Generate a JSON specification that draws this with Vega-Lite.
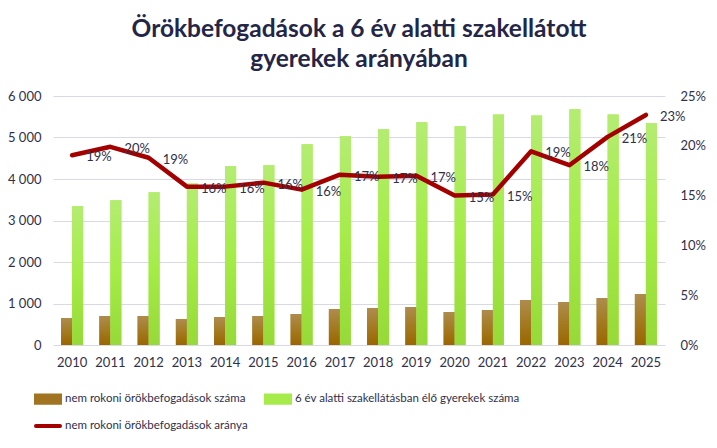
{
  "$schema": "https://vega.github.io/schema/vega-lite/v6.json",
  "width": 612,
  "height": 249,
  "autosize": "none",
  "padding": {"left": 53, "top": 96, "right": 52, "bottom": 103},
  "background": "white",
  "title": {
    "text": ["Örökbefogadások a 6 év alatti szakellátott", "gyerekek arányában"],
    "font": "Lato",
    "fontSize": 24.5,
    "fontWeight": "bold",
    "color": "#232647",
    "lineHeight": 30,
    "anchor": "middle",
    "offset": 18
  },
  "config": {
    "view": {"stroke": null},
    "font": "Lato",
    "axis": {"labelFont": "Lato", "labelFontSize": 13, "labelColor": "#30304a"},
    "legend": {"labelFont": "Lato", "labelFontSize": 11.5, "labelColor": "#30304a"}
  },
  "datasets": {
    "bars": [
      {"year": "2010", "series": "nem rokoni örökbefogadások száma", "value": 650},
      {"year": "2011", "series": "nem rokoni örökbefogadások száma", "value": 698},
      {"year": "2012", "series": "nem rokoni örökbefogadások száma", "value": 698},
      {"year": "2013", "series": "nem rokoni örökbefogadások száma", "value": 625},
      {"year": "2014", "series": "nem rokoni örökbefogadások száma", "value": 674},
      {"year": "2015", "series": "nem rokoni örökbefogadások száma", "value": 698},
      {"year": "2016", "series": "nem rokoni örökbefogadások száma", "value": 746},
      {"year": "2017", "series": "nem rokoni örökbefogadások száma", "value": 866},
      {"year": "2018", "series": "nem rokoni örökbefogadások száma", "value": 890},
      {"year": "2019", "series": "nem rokoni örökbefogadások száma", "value": 914},
      {"year": "2020", "series": "nem rokoni örökbefogadások száma", "value": 794},
      {"year": "2021", "series": "nem rokoni örökbefogadások száma", "value": 842},
      {"year": "2022", "series": "nem rokoni örökbefogadások száma", "value": 1083},
      {"year": "2023", "series": "nem rokoni örökbefogadások száma", "value": 1034},
      {"year": "2024", "series": "nem rokoni örökbefogadások száma", "value": 1131},
      {"year": "2025", "series": "nem rokoni örökbefogadások száma", "value": 1227},
      {"year": "2010", "series": "6 év alatti szakellátásban élő gyerekek száma", "value": 3344},
      {"year": "2011", "series": "6 év alatti szakellátásban élő gyerekek száma", "value": 3488},
      {"year": "2012", "series": "6 év alatti szakellátásban élő gyerekek száma", "value": 3681},
      {"year": "2013", "series": "6 év alatti szakellátásban élő gyerekek száma", "value": 3889},
      {"year": "2014", "series": "6 év alatti szakellátásban élő gyerekek száma", "value": 4306},
      {"year": "2015", "series": "6 év alatti szakellátásban élő gyerekek száma", "value": 4330},
      {"year": "2016", "series": "6 év alatti szakellátásban élő gyerekek száma", "value": 4836},
      {"year": "2017", "series": "6 év alatti szakellátásban élő gyerekek száma", "value": 5028},
      {"year": "2018", "series": "6 év alatti szakellátásban élő gyerekek száma", "value": 5196},
      {"year": "2019", "series": "6 év alatti szakellátásban élő gyerekek száma", "value": 5365},
      {"year": "2020", "series": "6 év alatti szakellátásban élő gyerekek száma", "value": 5269},
      {"year": "2021", "series": "6 év alatti szakellátásban élő gyerekek száma", "value": 5557},
      {"year": "2022", "series": "6 év alatti szakellátásban élő gyerekek száma", "value": 5533},
      {"year": "2023", "series": "6 év alatti szakellátásban élő gyerekek száma", "value": 5678},
      {"year": "2024", "series": "6 év alatti szakellátásban élő gyerekek száma", "value": 5557},
      {"year": "2025", "series": "6 év alatti szakellátásban élő gyerekek száma", "value": 5341}
    ],
    "ratio": [
      {"year": "2010", "ratio": 0.1905},
      {"year": "2011", "ratio": 0.199},
      {"year": "2012", "ratio": 0.188},
      {"year": "2013", "ratio": 0.159},
      {"year": "2014", "ratio": 0.159},
      {"year": "2015", "ratio": 0.163},
      {"year": "2016", "ratio": 0.156},
      {"year": "2017", "ratio": 0.171},
      {"year": "2018", "ratio": 0.169},
      {"year": "2019", "ratio": 0.17},
      {"year": "2020", "ratio": 0.15},
      {"year": "2021", "ratio": 0.151},
      {"year": "2022", "ratio": 0.1945},
      {"year": "2023", "ratio": 0.1805},
      {"year": "2024", "ratio": 0.209},
      {"year": "2025", "ratio": 0.231}
    ]
  },
  "encoding": {
    "x": {
      "field": "year",
      "type": "nominal",
      "scale": {"paddingInner": 0.425, "paddingOuter": 0.2125},
      "axis": {"title": null, "labelAngle": 0, "domain": false, "ticks": false, "labelPadding": 11}
    }
  },
  "layer": [
    {
      "data": {"name": "bars"},
      "encoding": {
        "xOffset": {
          "field": "series",
          "type": "nominal",
          "scale": {
            "domain": ["nem rokoni örökbefogadások száma", "6 év alatti szakellátásban élő gyerekek száma"],
            "paddingInner": 0,
            "paddingOuter": 0
          }
        },
        "y": {
          "field": "value",
          "type": "quantitative",
          "scale": {"domain": [0, 6000]},
          "axis": {
            "title": null,
            "values": [0, 1000, 2000, 3000, 4000, 5000, 6000],
            "domain": false,
            "ticks": false,
            "labelPadding": 12,
            "gridColor": "#D9D9E6",
            "labelExpr": "replace(format(datum.value, ','), ',', ' ')"
          }
        }
      },
      "layer": [
        {
          "mark": {"type": "bar"},
          "encoding": {
            "color": {
              "field": "series",
              "type": "nominal",
              "scale": {
                "domain": [
                  "nem rokoni örökbefogadások száma",
                  "nem rokoni örökbefogadások aránya",
                  "6 év alatti szakellátásban élő gyerekek száma"
                ],
                "range": ["#A07420", "#A30000", "#A6EB4A"]
              },
              "legend": {
                "title": null,
                "orient": "none",
                "legendX": -19,
                "legendY": 289,
                "columns": 2,
                "columnPadding": 10,
                "rowPadding": 1,
                "labelOffset": 3,
                "padding": 0,
                "labelLimit": 400,
                "symbolSize": 576,
                "encode": {
                  "symbols": {
                    "update": {
                      "shape": {"signal": "datum.value === 'nem rokoni örökbefogadások aránya' ? 'M-1,0L1,0' : 'M-1,-0.3L1,-0.3L1,0.3L-1,0.3Z'"},
                      "fill": {"signal": "datum.value === 'nem rokoni örökbefogadások aránya' ? 'transparent' : (datum.value === 'nem rokoni örökbefogadások száma' ? '#A07420' : '#A6EB4A')"},
                      "stroke": {"signal": "datum.value === 'nem rokoni örökbefogadások aránya' ? '#A30000' : 'transparent'"},
                      "strokeWidth": {"value": 4},
                      "strokeCap": {"value": "round"},
                      "opacity": {"value": 1},
                      "fillOpacity": {"value": 1},
                      "strokeOpacity": {"value": 1}
                    }
                  }
                }
              }
            }
          }
        },
        {
          "mark": {"type": "bar"},
          "encoding": {
            "color": {
              "condition": {
                "test": "datum.series === 'nem rokoni örökbefogadások száma'",
                "value": {
                  "gradient": "linear", "x1": 0, "y1": 0, "x2": 0, "y2": 1,
                  "stops": [{"offset": 0, "color": "#AE8C4E"}, {"offset": 0.5, "color": "#A47A22"}, {"offset": 1, "color": "#9A6600"}]
                }
              },
              "value": {
                "gradient": "linear", "x1": 0, "y1": 0, "x2": 0, "y2": 1,
                "stops": [{"offset": 0, "color": "#B4EC72"}, {"offset": 0.5, "color": "#A5EC48"}, {"offset": 1, "color": "#96D938"}]
              }
            }
          }
        }
      ]
    },
    {
      "data": {"name": "ratio"},
      "encoding": {
        "y": {
          "field": "ratio",
          "type": "quantitative",
          "scale": {"domain": [0, 0.25]},
          "axis": {
            "title": null,
            "orient": "right",
            "values": [0, 0.05, 0.1, 0.15, 0.2, 0.25],
            "format": ".0%",
            "grid": false,
            "domain": false,
            "ticks": false,
            "labelPadding": 15
          }
        }
      },
      "layer": [
        {
          "mark": {"type": "line", "strokeWidth": 4.5, "strokeJoin": "round", "strokeCap": "round"},
          "encoding": {"color": {"datum": "nem rokoni örökbefogadások aránya"}}
        },
        {
          "mark": {"type": "text", "align": "left", "baseline": "middle", "dx": 14, "dy": 2, "fontSize": 13, "color": "#30304a"},
          "encoding": {"text": {"field": "ratio", "type": "quantitative", "format": ".0%"}}
        }
      ]
    }
  ],
  "resolve": {"scale": {"y": "independent"}}
}
